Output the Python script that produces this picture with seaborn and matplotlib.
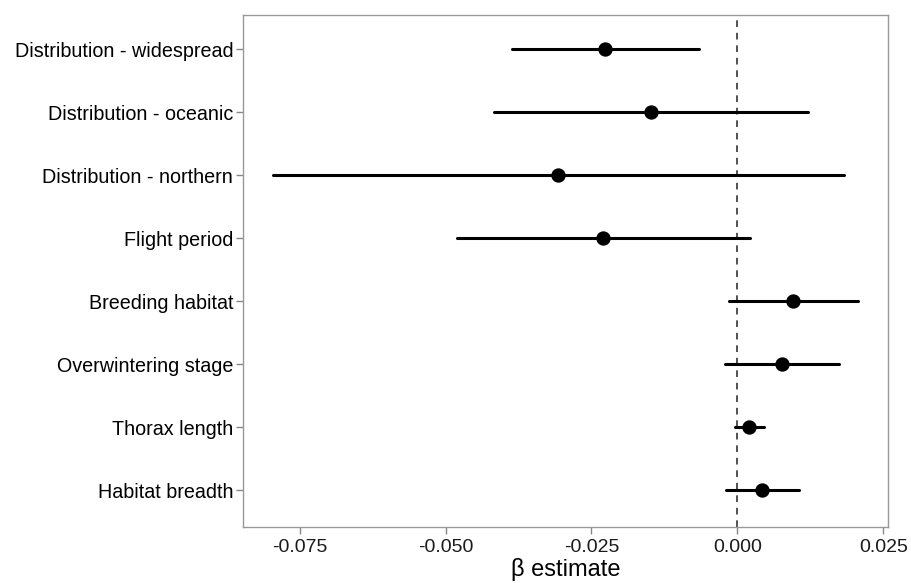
import matplotlib
matplotlib.use("Agg")
import matplotlib.pyplot as plt
import seaborn as sns
import pandas as pd

categories = ["Distribution - widespread", "Distribution - oceanic", "Distribution - northern",
              "Flight period", "Breeding habitat", "Overwintering stage", "Thorax length",
              "Habitat breadth"]
estimate = [-0.0226, -0.0148, -0.0308, -0.0231, 0.0096, 0.0076, 0.0020, 0.0042]
lower = [-0.0386, -0.0417, -0.0796, -0.0481, -0.0015, -0.0021, -0.0004, -0.0020]
upper = [-0.0065, 0.0121, 0.0183, 0.0021, 0.0207, 0.0174, 0.0045, 0.0106]
xticks = [-0.075, -0.050, -0.025, 0.000, 0.025]
xticklabels = ["-0.075", "-0.050", "-0.025", "0.000", "0.025"]

rows = []
for c, e, lo, hi in zip(categories, estimate, lower, upper):
    for v in (lo, e, hi):
        rows.append({"trait": c, "beta": v})
df = pd.DataFrame(rows)

sns.set_theme(style="white")
plt.rcParams["font.family"] = ["Liberation Sans", "DejaVu Sans"]

fig = plt.figure(figsize=(9.11, 5.83), dpi=100)
ax = fig.add_axes([0.2667, 0.0952, 0.7081, 0.8791])

ax.axvline(0, color="#333333", lw=1.2, ls=(0, (4, 3.5)), zorder=1)
sns.pointplot(data=df, x="beta", y="trait", order=categories, estimator="median",
              errorbar=("pi", 100), linestyle="none", color="black", markersize=8.3,
              err_kws={"linewidth": 2.2, "color": "black"}, ax=ax, zorder=3)

ax.set_xlim(-0.0847, 0.0258)
ax.set_ylim(len(categories) - 0.41, -0.54)
ax.set_xticks(xticks)
ax.set_xticklabels(xticklabels)
ax.set_xlabel("β estimate", fontsize=17, color="black", labelpad=1.5)
ax.set_ylabel("")
ax.tick_params(axis="both", which="both", direction="out", length=5, width=1,
               color="#888888", bottom=True, left=True)
ax.tick_params(axis="y", labelsize=14.2, labelcolor="black", pad=2)
ax.tick_params(axis="x", labelsize=14, labelcolor="#1a1a1a", pad=3.5)
for s in ax.spines.values():
    s.set_color("#999999")
    s.set_linewidth(1)
ax.grid(False)

fig.savefig("out.png", dpi=100)
